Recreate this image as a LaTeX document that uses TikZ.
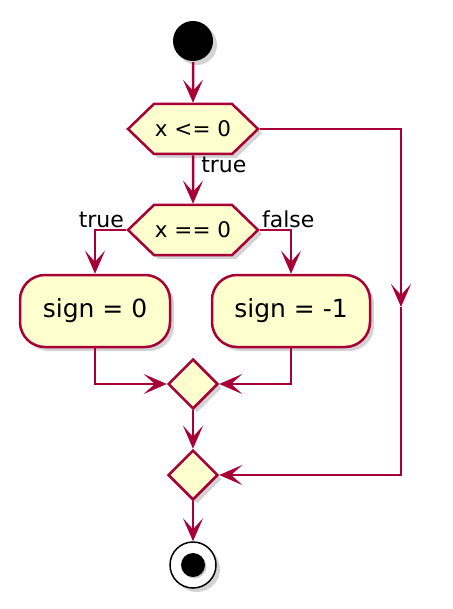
\documentclass[tikz,border=0pt]{standalone}
\usepackage{fontspec}
\setmainfont{DejaVu Sans}
\usetikzlibrary{shapes.geometric,shapes.symbols,shadows,arrows.meta}
\definecolor{umlred}{HTML}{A80036}
\definecolor{umlfill}{HTML}{FEFECE}
\begin{document}
\begin{tikzpicture}[x=1pt, y=-1pt, >={Stealth[length=23pt,width=20pt,inset=11pt]},
    line width=2.5pt,
    shade/.style={drop shadow={opacity=.35, shadow xshift=4pt, shadow yshift=-4pt}},
    hexbox/.style={signal, signal to=west and east, signal pointer angle=88, draw=umlred, fill=umlfill,
        minimum width=130pt, minimum height=50pt, inner sep=0pt, shade, font=\fontsize{21.5}{25}\selectfont},
    actbox/.style={rectangle, rounded corners=25pt, draw=umlred, fill=umlfill, minimum height=72pt,
        inner sep=0pt, shade, font=\fontsize{25}{30}\selectfont},
    mergebox/.style={diamond, draw=umlred, fill=umlfill, minimum size=50pt, inner sep=0pt, shade},
    flow/.style={draw=umlred, ->},
    lbl/.style={font=\fontsize{22}{26}\selectfont, inner sep=1pt}]
\useasboundingbox (0,0) rectangle (452,609);

\node[circle, fill=black, minimum size=40pt, inner sep=0pt, shade] (start) at (193,41) {};
\node[hexbox] (dec1) at (193,129) {x <= 0};
\node[hexbox] (dec2) at (193,230) {x == 0};
\node[actbox, minimum width=150pt] (zero) at (95,311) {sign = 0};
\node[actbox, minimum width=158pt] (minus) at (291,311) {sign = -1};
\node[mergebox] (merge1) at (193,384) {};
\node[mergebox] (merge2) at (193,475) {};
\node[circle, draw=black, fill=white, line width=1.5pt, minimum size=46pt, inner sep=0pt, shade] (stop) at (193,565) {};
\node[circle, fill=black, minimum size=24pt, inner sep=0pt, drop shadow={opacity=.4, shadow xshift=1.5pt, shadow yshift=-1.5pt}] (stopdot) at (stop) {};
\coordinate (bend) at (401,307);

\draw[flow] (start) -- (dec1);
\draw[flow] (dec1) -- node[lbl, at start, anchor=north west, xshift=6pt]{true} (dec2);
\draw[flow] (dec2.west) -| node[lbl, at start, anchor=south east]{true} (zero.north);
\draw[flow] (dec2.east) -| node[lbl, at start, anchor=south west]{false} (minus.north);
\draw[flow] (dec1.east) -| (bend);
\draw[flow] (bend) |- (merge2.east);
\draw[flow] (zero.south) |- (merge1.west);
\draw[flow] (minus.south) |- (merge1.east);
\draw[flow] (merge1) -- (merge2);
\draw[flow] (merge2) -- (stop);

\end{tikzpicture}
\end{document}
